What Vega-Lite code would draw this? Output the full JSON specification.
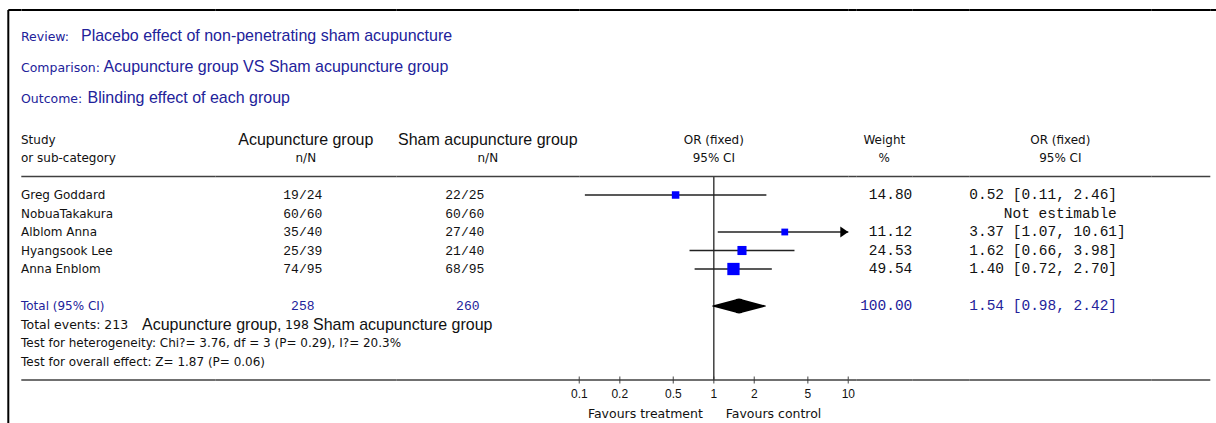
{
  "$schema": "https://vega.github.io/schema/vega-lite/v6.json",
  "padding": {"left": 7.3, "top": 9, "right": 0, "bottom": 0},
  "spacing": 0,
  "bounds": "flush",
  "config": {
    "view": {"stroke": null},
    "text": {"font": "DejaVu Sans", "fontSize": 12, "color": "#111111", "baseline": "middle"}
  },
  "datasets": {
    "studies": [
      {"study": "Greg Goddard", "acu": "19/24", "sham": "22/25", "or": 0.52, "lo": 0.11, "hi": 2.46, "weight": 14.80, "ortext": "0.52 [0.11, 2.46]"},
      {"study": "NobuaTakakura", "acu": "60/60", "sham": "60/60", "or": null, "lo": null, "hi": null, "weight": null, "ortext": "Not estimable"},
      {"study": "Alblom Anna", "acu": "35/40", "sham": "27/40", "or": 3.37, "lo": 1.07, "hi": 10.61, "weight": 11.12, "ortext": "3.37 [1.07, 10.61]"},
      {"study": "Hyangsook Lee", "acu": "25/39", "sham": "21/40", "or": 1.62, "lo": 0.66, "hi": 3.98, "weight": 24.53, "ortext": "1.62 [0.66, 3.98]"},
      {"study": "Anna Enblom", "acu": "74/95", "sham": "68/95", "or": 1.40, "lo": 0.72, "hi": 2.70, "weight": 49.54, "ortext": "1.40 [0.72, 2.70]"}
    ],
    "total": [
      {"study": "Total (95% CI)", "acu": "258", "sham": "260", "lo": 0.98, "or": 1.54, "hi": 2.42, "weight": 100.00, "ortext": "1.54 [0.98, 2.42]"}
    ],
    "lines": [{"slot": "border"}, {"slot": "sep"}, {"slot": "axis"}],
    "ticks": [
      {"v": 0.1, "label": "0.1"}, {"v": 0.2, "label": "0.2"}, {"v": 0.5, "label": "0.5"},
      {"v": 1, "label": "1"}, {"v": 2, "label": "2"}, {"v": 5, "label": "5"}, {"v": 10, "label": "10"}
    ],
    "titles": [
      {"line": "review", "prefix": "Review:", "content": "Placebo effect of non-penetrating sham acupuncture"},
      {"line": "comparison", "prefix": "Comparison:", "content": "Acupuncture group VS Sham acupuncture group"},
      {"line": "outcome", "prefix": "Outcome:", "content": "Blinding effect of each group"}
    ],
    "stats": [
      {"slot": "heterogeneity", "text": "Test for heterogeneity: Chi?= 3.76, df = 3 (P= 0.29), I?= 20.3%"},
      {"slot": "overall", "text": "Test for overall effect:  Z= 1.87 (P= 0.06)"}
    ]
  },
  "hconcat": [
    {
      "width": 12.7, "height": 416,
      "encoding": {
        "y": {"field": "slot", "type": "nominal", "axis": null, "scale": {"type": "point", "domain": ["border","blank1","review","comparison","blank2","outcome","blank3","head1","head2","sep","Greg Goddard","NobuaTakakura","Alblom Anna","Hyangsook Lee","Anna Enblom","gap","Total (95% CI)","events","heterogeneity","overall","axis","ticklabels","favours"], "padding": 0.243, "align": 0}}
      },
      "layer": [
        {"data": {"values": [{"e": "edge"}]}, "mark": {"type": "rule", "color": "#000000", "strokeWidth": 2},
         "encoding": {"x": {"field": "e", "type": "nominal", "axis": null, "scale": {"type": "point", "domain": ["edge", "text"], "padding": 0, "align": 0}}, "y": null}},
        {"data": {"name": "lines"}, "transform": [{"filter": "datum.slot === 'border'"}], "mark": {"type": "rule", "color": "#000000", "strokeWidth": 2},
         "encoding": {}},
        {"data": {"name": "titles"}, "transform": [{"filter": "datum.line === 'review'"}], "mark": {"type": "text", "align": "left", "baseline": "alphabetic", "font": "DejaVu Sans", "fontSize": 12.5, "color": "#22229a", "dy": -6},
         "encoding": {"x": {"datum": "text", "type": "nominal"}, "y": {"field": "line", "type": "nominal"}, "text": {"field": "prefix"}}},
        {"data": {"name": "titles"}, "transform": [{"filter": "datum.line === 'review'"}], "mark": {"type": "text", "align": "left", "baseline": "alphabetic", "font": "Liberation Sans", "fontSize": 16, "color": "#22229a", "dx": 60, "dy": -6},
         "encoding": {"x": {"datum": "text", "type": "nominal"}, "y": {"field": "line", "type": "nominal"}, "text": {"field": "content"}}},
        {"data": {"name": "titles"}, "transform": [{"filter": "datum.line === 'comparison'"}], "mark": {"type": "text", "align": "left", "baseline": "alphabetic", "font": "DejaVu Sans", "fontSize": 12.5, "color": "#22229a", "dy": 6.2},
         "encoding": {"x": {"datum": "text", "type": "nominal"}, "y": {"field": "line", "type": "nominal"}, "text": {"field": "prefix"}}},
        {"data": {"name": "titles"}, "transform": [{"filter": "datum.line === 'comparison'"}], "mark": {"type": "text", "align": "left", "baseline": "alphabetic", "font": "Liberation Sans", "fontSize": 16, "color": "#22229a", "dx": 82.6, "dy": 6.2},
         "encoding": {"x": {"datum": "text", "type": "nominal"}, "y": {"field": "line", "type": "nominal"}, "text": {"field": "content"}}},
        {"data": {"name": "titles"}, "transform": [{"filter": "datum.line === 'outcome'"}], "mark": {"type": "text", "align": "left", "baseline": "alphabetic", "font": "DejaVu Sans", "fontSize": 12.5, "color": "#22229a", "dy": 0.8},
         "encoding": {"x": {"datum": "text", "type": "nominal"}, "y": {"field": "line", "type": "nominal"}, "text": {"field": "prefix"}}},
        {"data": {"name": "titles"}, "transform": [{"filter": "datum.line === 'outcome'"}], "mark": {"type": "text", "align": "left", "baseline": "alphabetic", "font": "Liberation Sans", "fontSize": 16, "color": "#22229a", "dx": 66.6, "dy": 0.8},
         "encoding": {"x": {"datum": "text", "type": "nominal"}, "y": {"field": "line", "type": "nominal"}, "text": {"field": "content"}}},
        {"data": {"values": [{"slot": "head1", "t": "Study"}, {"slot": "head2", "t": "or sub-category"}]}, "mark": {"type": "text", "align": "left"},
         "encoding": {"x": {"datum": "text", "type": "nominal"}, "text": {"field": "t"}}},
        {"data": {"name": "studies"}, "mark": {"type": "text", "align": "left"},
         "encoding": {"x": {"datum": "text", "type": "nominal"}, "y": {"field": "study", "type": "nominal"}, "text": {"field": "study"}}},
        {"data": {"name": "total"}, "mark": {"type": "text", "align": "left", "color": "#22229a"},
         "encoding": {"x": {"datum": "text", "type": "nominal"}, "y": {"field": "study", "type": "nominal"}, "text": {"field": "study"}}},
        {"data": {"values": [{"slot": "events", "t": "Total events: 213"}]}, "mark": {"type": "text", "align": "left", "fontSize": 12.5},
         "encoding": {"x": {"datum": "text", "type": "nominal"}, "text": {"field": "t"}}},
        {"data": {"values": [{"slot": "events", "t": "Acupuncture group,"}]}, "mark": {"type": "text", "align": "left", "font": "Liberation Sans", "fontSize": 16, "dx": 121},
         "encoding": {"x": {"datum": "text", "type": "nominal"}, "text": {"field": "t"}}},
        {"data": {"values": [{"slot": "events", "t": "198"}]}, "mark": {"type": "text", "align": "left", "fontSize": 12.5, "dx": 264},
         "encoding": {"x": {"datum": "text", "type": "nominal"}, "text": {"field": "t"}}},
        {"data": {"values": [{"slot": "events", "t": "Sham acupuncture group"}]}, "mark": {"type": "text", "align": "left", "font": "Liberation Sans", "fontSize": 16, "dx": 292},
         "encoding": {"x": {"datum": "text", "type": "nominal"}, "text": {"field": "t"}}},
        {"data": {"name": "stats"}, "mark": {"type": "text", "align": "left"},
         "encoding": {"x": {"datum": "text", "type": "nominal"}, "text": {"field": "text"}}}
      ]
    },
    {
      "width": 194, "height": 416,
      "data": {"name": "lines"},
      "mark": {"type": "rule"},
      "encoding": {
        "y": {"field": "slot", "type": "nominal", "axis": null, "scale": {"type": "point", "domain": ["border","blank1","review","comparison","blank2","outcome","blank3","head1","head2","sep","Greg Goddard","NobuaTakakura","Alblom Anna","Hyangsook Lee","Anna Enblom","gap","Total (95% CI)","events","heterogeneity","overall","axis","ticklabels","favours"], "padding": 0.243, "align": 0}},
        "strokeWidth": {"condition": {"test": "datum.slot === 'border'", "value": 2}, "value": 1.5},
        "color": {"condition": {"test": "datum.slot === 'border'", "value": "#000000"}, "value": "#404040"}
      }
    },
    {
      "width": 181, "height": 416,
      "encoding": {
        "y": {"field": "slot", "type": "nominal", "axis": null, "scale": {"type": "point", "domain": ["border","blank1","review","comparison","blank2","outcome","blank3","head1","head2","sep","Greg Goddard","NobuaTakakura","Alblom Anna","Hyangsook Lee","Anna Enblom","gap","Total (95% CI)","events","heterogeneity","overall","axis","ticklabels","favours"], "padding": 0.243, "align": 0}}
      },
      "layer": [
        {"data": {"name": "lines"}, "mark": {"type": "rule"},
         "encoding": {"strokeWidth": {"condition": {"test": "datum.slot === 'border'", "value": 2}, "value": 1.5},
                      "color": {"condition": {"test": "datum.slot === 'border'", "value": "#000000"}, "value": "#404040"}}},
        {"data": {"values": [{"slot": "head1", "t": "Acupuncture group"}]}, "mark": {"type": "text", "font": "Liberation Sans", "fontSize": 16},
         "encoding": {"text": {"field": "t"}}},
        {"data": {"values": [{"slot": "head2", "t": "n/N"}]}, "mark": {"type": "text"},
         "encoding": {"text": {"field": "t"}}},
        {"data": {"name": "studies"}, "mark": {"type": "text", "font": "Liberation Mono", "fontSize": 13, "dx": -3},
         "encoding": {"y": {"field": "study", "type": "nominal"}, "text": {"field": "acu"}}},
        {"data": {"name": "total"}, "mark": {"type": "text", "font": "Liberation Mono", "fontSize": 13, "color": "#22229a", "dx": -3},
         "encoding": {"y": {"field": "study", "type": "nominal"}, "text": {"field": "acu"}}}
      ]
    },
    {
      "width": 183, "height": 416,
      "encoding": {
        "y": {"field": "slot", "type": "nominal", "axis": null, "scale": {"type": "point", "domain": ["border","blank1","review","comparison","blank2","outcome","blank3","head1","head2","sep","Greg Goddard","NobuaTakakura","Alblom Anna","Hyangsook Lee","Anna Enblom","gap","Total (95% CI)","events","heterogeneity","overall","axis","ticklabels","favours"], "padding": 0.243, "align": 0}}
      },
      "layer": [
        {"data": {"name": "lines"}, "mark": {"type": "rule"},
         "encoding": {"strokeWidth": {"condition": {"test": "datum.slot === 'border'", "value": 2}, "value": 1.5},
                      "color": {"condition": {"test": "datum.slot === 'border'", "value": "#000000"}, "value": "#404040"}}},
        {"data": {"values": [{"slot": "head1", "t": "Sham acupuncture group"}]}, "mark": {"type": "text", "font": "Liberation Sans", "fontSize": 16},
         "encoding": {"text": {"field": "t"}}},
        {"data": {"values": [{"slot": "head2", "t": "n/N"}]}, "mark": {"type": "text"},
         "encoding": {"text": {"field": "t"}}},
        {"data": {"name": "studies"}, "mark": {"type": "text", "font": "Liberation Mono", "fontSize": 13, "dx": -23},
         "encoding": {"y": {"field": "study", "type": "nominal"}, "text": {"field": "sham"}}},
        {"data": {"name": "total"}, "mark": {"type": "text", "font": "Liberation Mono", "fontSize": 13, "color": "#22229a", "dx": -20},
         "encoding": {"y": {"field": "study", "type": "nominal"}, "text": {"field": "sham"}}}
      ]
    },
    {
      "width": 269, "height": 416,
      "encoding": {
        "y": {"field": "slot", "type": "nominal", "axis": null, "scale": {"type": "point", "domain": ["border","blank1","review","comparison","blank2","outcome","blank3","head1","head2","sep","Greg Goddard","NobuaTakakura","Alblom Anna","Hyangsook Lee","Anna Enblom","gap","Total (95% CI)","events","heterogeneity","overall","axis","ticklabels","favours"], "padding": 0.243, "align": 0}}
      },
      "layer": [
        {"data": {"name": "lines"}, "mark": {"type": "rule"},
         "encoding": {"strokeWidth": {"condition": {"test": "datum.slot === 'border'", "value": 2}, "value": 1.5},
                      "color": {"condition": {"test": "datum.slot === 'border'", "value": "#000000"}, "value": "#404040"}}},
        {"data": {"values": [{"slot": "head1", "t": "OR (fixed)"}, {"slot": "head2", "t": "95% CI"}]}, "mark": {"type": "text"},
         "encoding": {"text": {"field": "t"}}},
        {"data": {"values": [{}]}, "mark": {"type": "rule", "color": "#404040", "strokeWidth": 1.5},
         "encoding": {"x": {"datum": 1, "type": "quantitative", "axis": null, "scale": {"type": "log", "domain": [0.1, 10], "clamp": true, "nice": false}},
                      "y": {"datum": "sep", "type": "nominal"}, "y2": {"datum": "axis"}}},
        {"data": {"name": "studies"}, "transform": [{"filter": "isValid(datum.or)"}], "mark": {"type": "rule", "color": "#222222", "strokeWidth": 1.4},
         "encoding": {"x": {"field": "lo", "type": "quantitative", "axis": null}, "x2": {"field": "hi"},
                      "y": {"field": "study", "type": "nominal"}}},
        {"data": {"name": "studies"}, "transform": [{"filter": "isValid(datum.or)"}], "mark": {"type": "point", "shape": "square", "filled": true, "color": "#0000ff", "opacity": 1},
         "encoding": {"x": {"field": "or", "type": "quantitative", "axis": null},
                      "y": {"field": "study", "type": "nominal"},
                      "size": {"field": "weight", "type": "quantitative", "legend": null, "scale": {"domain": [0, 50], "range": [16, 152]}}}},
        {"data": {"name": "studies"}, "transform": [{"filter": "datum.hi > 10"}], "mark": {"type": "point", "shape": "M-1,-0.7L0,0L-1,0.7Z", "filled": true, "color": "#000000", "opacity": 1, "size": 256},
         "encoding": {"x": {"datum": 10, "type": "quantitative", "axis": null},
                      "y": {"field": "study", "type": "nominal"}}},
        {"data": {"name": "total"}, "transform": [{"fold": ["lo", "or", "hi"], "as": ["vertex", "value"]}], "mark": {"type": "trail", "color": "#000000"},
         "encoding": {"x": {"field": "value", "type": "quantitative", "axis": null},
                      "y": {"field": "study", "type": "nominal"},
                      "size": {"field": "vertex", "type": "ordinal", "legend": null, "scale": {"type": "ordinal", "domain": ["lo", "or", "hi"], "range": [0, 15, 0]}}}},
        {"data": {"name": "ticks"}, "mark": {"type": "tick", "orient": "vertical", "size": 7, "thickness": 1.3, "color": "#333333"},
         "encoding": {"x": {"field": "v", "type": "quantitative", "axis": null},
                      "y": {"datum": "axis", "type": "nominal"}}},
        {"data": {"name": "ticks"}, "mark": {"type": "text", "font": "Liberation Sans", "fontSize": 12, "dy": -5},
         "encoding": {"x": {"field": "v", "type": "quantitative", "axis": null},
                      "y": {"datum": "ticklabels", "type": "nominal"},
                      "text": {"field": "label"}}},
        {"data": {"values": [{"t": "Favours treatment"}]}, "mark": {"type": "text", "align": "right", "fontSize": 12.5, "dx": -11, "dy": -3.5},
         "encoding": {"x": {"datum": 1, "type": "quantitative", "axis": null},
                      "y": {"datum": "favours", "type": "nominal"},
                      "text": {"field": "t"}}},
        {"data": {"values": [{"t": "Favours control"}]}, "mark": {"type": "text", "align": "left", "fontSize": 12.5, "dx": 12, "dy": -3.5},
         "encoding": {"x": {"datum": 1, "type": "quantitative", "axis": null},
                      "y": {"datum": "favours", "type": "nominal"},
                      "text": {"field": "t"}}}
      ]
    },
    {
      "width": 8, "height": 416,
      "data": {"name": "lines"},
      "mark": {"type": "rule"},
      "encoding": {
        "y": {"field": "slot", "type": "nominal", "axis": null, "scale": {"type": "point", "domain": ["border","blank1","review","comparison","blank2","outcome","blank3","head1","head2","sep","Greg Goddard","NobuaTakakura","Alblom Anna","Hyangsook Lee","Anna Enblom","gap","Total (95% CI)","events","heterogeneity","overall","axis","ticklabels","favours"], "padding": 0.243, "align": 0}},
        "strokeWidth": {"condition": {"test": "datum.slot === 'border'", "value": 2}, "value": 1.5},
        "color": {"condition": {"test": "datum.slot === 'border'", "value": "#000000"}, "value": "#404040"}
      }
    },
    {
      "width": 56, "height": 416,
      "encoding": {
        "y": {"field": "slot", "type": "nominal", "axis": null, "scale": {"type": "point", "domain": ["border","blank1","review","comparison","blank2","outcome","blank3","head1","head2","sep","Greg Goddard","NobuaTakakura","Alblom Anna","Hyangsook Lee","Anna Enblom","gap","Total (95% CI)","events","heterogeneity","overall","axis","ticklabels","favours"], "padding": 0.243, "align": 0}}
      },
      "layer": [
        {"data": {"name": "lines"}, "mark": {"type": "rule"},
         "encoding": {"strokeWidth": {"condition": {"test": "datum.slot === 'border'", "value": 2}, "value": 1.5},
                      "color": {"condition": {"test": "datum.slot === 'border'", "value": "#000000"}, "value": "#404040"}}},
        {"data": {"values": [{"slot": "head1", "t": "Weight"}, {"slot": "head2", "t": "%"}]}, "mark": {"type": "text"},
         "encoding": {"text": {"field": "t"}}},
        {"data": {"name": "studies"}, "transform": [{"filter": "isValid(datum.weight)"}], "mark": {"type": "text", "align": "right", "font": "Liberation Mono", "fontSize": 14.5},
         "encoding": {"x": {"datum": "value", "type": "nominal", "axis": null, "scale": {"type": "point", "padding": 0, "align": 1}},
                      "y": {"field": "study", "type": "nominal"},
                      "text": {"field": "weight", "type": "quantitative", "format": ".2f"}}},
        {"data": {"name": "total"}, "mark": {"type": "text", "align": "right", "font": "Liberation Mono", "fontSize": 14.5, "color": "#22229a"},
         "encoding": {"x": {"datum": "value", "type": "nominal", "axis": null},
                      "y": {"field": "study", "type": "nominal"},
                      "text": {"field": "weight", "type": "quantitative", "format": ".2f"}}}
      ]
    },
    {
      "width": 57, "height": 416,
      "data": {"name": "lines"},
      "mark": {"type": "rule"},
      "encoding": {
        "y": {"field": "slot", "type": "nominal", "axis": null, "scale": {"type": "point", "domain": ["border","blank1","review","comparison","blank2","outcome","blank3","head1","head2","sep","Greg Goddard","NobuaTakakura","Alblom Anna","Hyangsook Lee","Anna Enblom","gap","Total (95% CI)","events","heterogeneity","overall","axis","ticklabels","favours"], "padding": 0.243, "align": 0}},
        "strokeWidth": {"condition": {"test": "datum.slot === 'border'", "value": 2}, "value": 1.5},
        "color": {"condition": {"test": "datum.slot === 'border'", "value": "#000000"}, "value": "#404040"}
      }
    },
    {
      "width": 182, "height": 416,
      "encoding": {
        "y": {"field": "slot", "type": "nominal", "axis": null, "scale": {"type": "point", "domain": ["border","blank1","review","comparison","blank2","outcome","blank3","head1","head2","sep","Greg Goddard","NobuaTakakura","Alblom Anna","Hyangsook Lee","Anna Enblom","gap","Total (95% CI)","events","heterogeneity","overall","axis","ticklabels","favours"], "padding": 0.243, "align": 0}}
      },
      "layer": [
        {"data": {"name": "lines"}, "mark": {"type": "rule"},
         "encoding": {"strokeWidth": {"condition": {"test": "datum.slot === 'border'", "value": 2}, "value": 1.5},
                      "color": {"condition": {"test": "datum.slot === 'border'", "value": "#000000"}, "value": "#404040"}}},
        {"data": {"values": [{"slot": "head1", "t": "OR (fixed)"}, {"slot": "head2", "t": "95% CI"}]}, "mark": {"type": "text"},
         "encoding": {"text": {"field": "t"}}},
        {"data": {"name": "studies"}, "transform": [{"filter": "isValid(datum.or)"}], "mark": {"type": "text", "align": "left", "font": "Liberation Mono", "fontSize": 14.5},
         "encoding": {"x": {"datum": "value", "type": "nominal", "axis": null, "scale": {"type": "point", "padding": 0, "align": 0}},
                      "y": {"field": "study", "type": "nominal"},
                      "text": {"field": "ortext"}}},
        {"data": {"name": "studies"}, "transform": [{"filter": "!isValid(datum.or)"}], "mark": {"type": "text", "font": "Liberation Mono", "fontSize": 14.5},
         "encoding": {"y": {"field": "study", "type": "nominal"},
                      "text": {"field": "ortext"}}},
        {"data": {"name": "total"}, "mark": {"type": "text", "align": "left", "font": "Liberation Mono", "fontSize": 14.5, "color": "#22229a"},
         "encoding": {"x": {"datum": "value", "type": "nominal", "axis": null},
                      "y": {"field": "study", "type": "nominal"},
                      "text": {"field": "ortext"}}}
      ]
    },
    {
      "width": 59, "height": 416,
      "data": {"name": "lines"},
      "mark": {"type": "rule"},
      "encoding": {
        "y": {"field": "slot", "type": "nominal", "axis": null, "scale": {"type": "point", "domain": ["border","blank1","review","comparison","blank2","outcome","blank3","head1","head2","sep","Greg Goddard","NobuaTakakura","Alblom Anna","Hyangsook Lee","Anna Enblom","gap","Total (95% CI)","events","heterogeneity","overall","axis","ticklabels","favours"], "padding": 0.243, "align": 0}},
        "strokeWidth": {"condition": {"test": "datum.slot === 'border'", "value": 2}, "value": 1.5},
        "color": {"condition": {"test": "datum.slot === 'border'", "value": "#000000"}, "value": "#404040"}
      }
    },
    {
      "width": 10, "height": 416,
      "data": {"name": "lines"},
      "transform": [{"filter": "datum.slot === 'border'"}],
      "mark": {"type": "rule", "color": "#000000", "strokeWidth": 2},
      "encoding": {
        "y": {"field": "slot", "type": "nominal", "axis": null, "scale": {"type": "point", "domain": ["border","blank1","review","comparison","blank2","outcome","blank3","head1","head2","sep","Greg Goddard","NobuaTakakura","Alblom Anna","Hyangsook Lee","Anna Enblom","gap","Total (95% CI)","events","heterogeneity","overall","axis","ticklabels","favours"], "padding": 0.243, "align": 0}}
      }
    }
  ]
}
